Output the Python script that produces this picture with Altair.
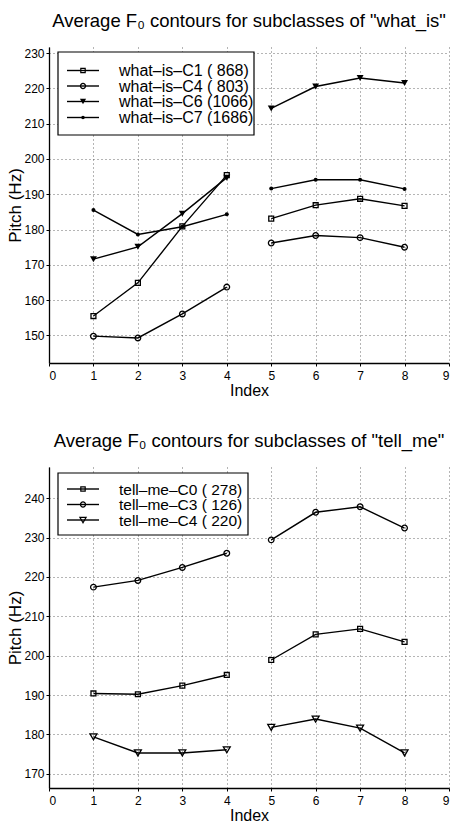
import altair as alt
import pandas as pd

# ---------------- data ----------------
index_vals = [1, 2, 3, 4, 5, 6, 7, 8]

what_names = ["what–is–C1 ( 868)", "what–is–C4 ( 803)", "what–is–C6 (1066)", "what–is–C7 (1686)"]
what_c1 = [155.5, 164.9, 180.9, 195.4, 183.1, 186.9, 188.7, 186.7]
what_c4 = [149.8, 149.3, 156.1, 163.7, 176.2, 178.3, 177.7, 175.0]
what_c6 = [171.6, 175.1, 184.5, 194.7, 214.3, 220.5, 222.9, 221.5]
what_c7 = [185.5, 178.6, 180.8, 184.3, 191.6, 194.1, 194.1, 191.5]

tell_names = ["tell–me–C0 ( 278)", "tell–me–C3 ( 126)", "tell–me–C4 ( 220)"]
tell_c0 = [190.4, 190.2, 192.4, 195.1, 198.9, 205.4, 206.8, 203.5]
tell_c3 = [217.4, 219.1, 222.4, 226.0, 229.4, 236.4, 237.8, 232.4]
tell_c4 = [179.4, 175.3, 175.3, 176.1, 181.8, 183.9, 181.6, 175.3]

what_yticks = [150, 160, 170, 180, 190, 200, 210, 220, 230]
tell_yticks = [170, 180, 190, 200, 210, 220, 230, 240]
x_ticks = [0, 1, 2, 3, 4, 5, 6, 7, 8, 9]

FONT = "Liberation Sans"


def build_df(names, series):
    rows = []
    for name, vals in zip(names, series):
        for i, v in zip(index_vals, vals):
            rows.append({"series": name, "idx": i, "value": v, "seg": 1 if i <= 4 else 2})
    return pd.DataFrame(rows)


def panel(names, series, styles, ydomain, yticks, height, title, box, rows_y, lfont):
    df = build_df(names, series)
    base = alt.Chart(df).encode(
        x=alt.X("idx:Q", scale=alt.Scale(domain=[0, 9], nice=False),
                axis=alt.Axis(values=x_ticks, title="Index", format="d")),
        y=alt.Y("value:Q", scale=alt.Scale(domain=ydomain, nice=False, zero=False),
                axis=alt.Axis(values=yticks, title="Pitch (Hz)", format="d",
                              titleX=-25, titleBaseline="bottom")),
    )
    layers = [base.mark_line(color="black", strokeWidth=1.4).encode(detail=["series:N", "seg:N"])]
    for name, (shape, filled, size) in zip(names, styles):
        layers.append(
            base.transform_filter(alt.datum.series == name).mark_point(
                shape=shape, filled=filled, size=size, color="black",
                strokeWidth=1.3, opacity=1)
        )
    one = pd.DataFrame({"a": [0]})
    bx0, bx1, by0, by1 = box
    layers.append(alt.Chart(one).mark_rect(fill="white", stroke="black", strokeWidth=1.2).encode(
        x=alt.value(bx0), x2=alt.value(bx1), y=alt.value(by0), y2=alt.value(by1)))
    for name, (shape, filled, size), ry in zip(names, styles, rows_y):
        layers.append(alt.Chart(one).mark_rule(color="black", strokeWidth=1.4).encode(
            x=alt.value(bx0 + 9), x2=alt.value(bx0 + 41), y=alt.value(ry)))
        layers.append(alt.Chart(one).mark_point(shape=shape, filled=filled, size=size * 0.8,
                                                color="black", strokeWidth=1.2, opacity=1).encode(
            x=alt.value(bx0 + 25), y=alt.value(ry)))
        layers.append(alt.Chart(one).mark_text(align="left", baseline="middle", font=FONT,
                                               fontSize=lfont, color="black").encode(
            x=alt.value(bx0 + 61), y=alt.value(ry + 0.5), text=alt.value(name)))
    return alt.layer(*layers).properties(
        width=400, height=height,
        title=alt.TitleParams(title, fontSize=18.5, font=FONT, fontWeight="normal",
                              anchor="middle", offset=17, color="black"),
    )


top = panel(
    what_names, [what_c1, what_c4, what_c6, what_c7],
    [("square", False, 24), ("circle", False, 32), ("triangle-down", True, 48), ("circle", True, 16)],
    [142.2, 231.7], what_yticks, 316,
    "Average F\u2080 contours for subclasses of \"what_is\"",
    (9, 205, 5, 88), [23.5, 39, 54.5, 70.5], 16,
)

bottom = panel(
    tell_names, [tell_c0, tell_c3, tell_c4],
    [("square", False, 24), ("circle", False, 32), ("triangle-down", False, 48)],
    [166.4, 247.9], tell_yticks, 321,
    "Average F\u2080 contours for subclasses of \"tell_me\"",
    (9, 199, 6, 68), [22, 37.5, 53], 15.5,
)

chart = alt.vconcat(top, bottom, spacing=33).properties(
    padding={"left": 6, "top": 11, "right": 0, "bottom": 0},
    background="white",
).configure_view(stroke=None).configure_axis(
    labelFont=FONT, labelFontSize=12, labelColor="black",
    titleFont=FONT, titleFontWeight="normal", titleColor="black",
    domainColor="black", domainWidth=1.3, tickColor="black", tickSize=3, tickWidth=1,
    grid=True, gridColor="#444", gridDash=[1, 3], gridWidth=0.8,
).configure_axisX(
    labelPadding=4, titlePadding=1, titleFontSize=16,
).configure_axisY(
    labelPadding=2, titlePadding=0, titleFontSize=17,
)

chart.save("out.html", embed_options={"renderer": "svg", "actions": False})
